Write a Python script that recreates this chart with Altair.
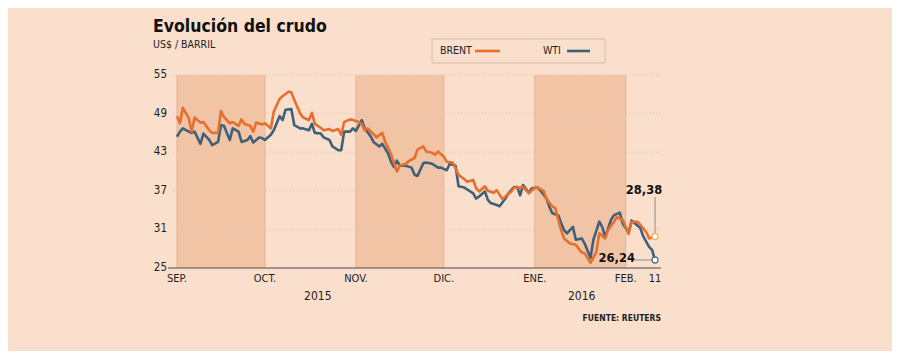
import altair as alt
import pandas as pd

# ---------------- data ----------------
brent_dates = [
    "2015-09-01", "2015-09-02", "2015-09-03", "2015-09-05", "2015-09-06", "2015-09-07",
    "2015-09-09", "2015-09-10", "2015-09-12", "2015-09-13", "2015-09-15", "2015-09-16",
    "2015-09-17", "2015-09-19", "2015-09-20", "2015-09-22", "2015-09-23", "2015-09-24",
    "2015-09-26", "2015-09-27", "2015-09-28", "2015-09-30", "2015-10-01", "2015-10-03",
    "2015-10-04", "2015-10-06", "2015-10-07", "2015-10-09", "2015-10-10", "2015-10-11",
    "2015-10-13", "2015-10-14", "2015-10-16", "2015-10-17", "2015-10-18", "2015-10-20",
    "2015-10-21", "2015-10-23", "2015-10-24", "2015-10-26", "2015-10-27", "2015-10-28",
    "2015-10-30", "2015-10-31", "2015-11-02", "2015-11-03", "2015-11-04", "2015-11-05",
    "2015-11-07", "2015-11-08", "2015-11-10", "2015-11-11", "2015-11-13", "2015-11-14",
    "2015-11-15", "2015-11-16", "2015-11-18", "2015-11-19", "2015-11-21", "2015-11-22",
    "2015-11-24", "2015-11-25", "2015-11-27", "2015-11-28", "2015-11-29", "2015-12-01",
    "2015-12-02", "2015-12-04", "2015-12-05", "2015-12-06", "2015-12-08", "2015-12-09",
    "2015-12-11", "2015-12-12", "2015-12-13", "2015-12-15", "2015-12-16", "2015-12-18",
    "2015-12-19", "2015-12-21", "2015-12-22", "2015-12-24", "2015-12-25", "2015-12-27",
    "2015-12-28", "2015-12-30", "2016-01-01", "2016-01-02", "2016-01-04", "2016-01-05",
    "2016-01-07", "2016-01-08", "2016-01-09", "2016-01-10", "2016-01-11", "2016-01-13",
    "2016-01-15", "2016-01-17", "2016-01-18", "2016-01-20", "2016-01-22", "2016-01-23",
    "2016-01-25", "2016-01-26", "2016-01-28", "2016-01-29", "2016-01-31", "2016-02-02",
    "2016-02-03", "2016-02-05", "2016-02-06", "2016-02-08", "2016-02-09", "2016-02-11",
]
brent_values = [
    48.6, 47.5, 49.9, 48.3, 46.2, 48.4,
    47.6, 47.7, 46.4, 46.0, 46.0, 49.4,
    48.5, 47.5, 47.7, 47.1, 48.1, 47.4,
    47.1, 46.2, 47.6, 47.3, 47.5, 46.7,
    49.3, 51.3, 51.7, 52.4, 52.3, 51.1,
    49.0, 48.4, 48.0, 49.1, 47.4, 46.8,
    46.4, 46.6, 46.3, 46.6, 45.7, 47.7,
    48.1, 48.0, 47.7, 47.4, 46.4, 46.7,
    45.8, 45.3, 46.0, 44.6, 42.7, 41.3,
    40.0, 40.9, 41.2, 41.6, 42.1, 43.4,
    43.9, 43.1, 42.9, 42.6, 43.1, 42.3,
    41.5, 41.4, 40.5, 39.5, 38.8, 38.4,
    38.7, 37.4, 36.9, 37.7, 37.0, 36.7,
    37.1, 35.7, 36.1, 36.9, 37.5, 37.5,
    37.6, 36.6, 37.5, 37.5, 37.0, 35.7,
    34.6, 34.3, 32.5, 30.9, 29.6, 28.8,
    28.6, 27.4, 27.3, 25.8, 27.5, 30.4,
    29.6, 30.9, 32.2, 32.9, 32.5, 30.3,
    32.2, 32.2, 31.7, 30.6, 29.6, 29.9,
]

wti_dates = [
    "2015-09-01", "2015-09-02", "2015-09-03", "2015-09-05", "2015-09-06", "2015-09-07",
    "2015-09-09", "2015-09-10", "2015-09-12", "2015-09-13", "2015-09-15", "2015-09-16",
    "2015-09-17", "2015-09-19", "2015-09-20", "2015-09-22", "2015-09-23", "2015-09-25",
    "2015-09-26", "2015-09-27", "2015-09-29", "2015-09-30", "2015-10-01", "2015-10-03",
    "2015-10-04", "2015-10-06", "2015-10-07", "2015-10-08", "2015-10-10", "2015-10-11",
    "2015-10-13", "2015-10-14", "2015-10-16", "2015-10-17", "2015-10-18", "2015-10-20",
    "2015-10-21", "2015-10-23", "2015-10-24", "2015-10-26", "2015-10-27", "2015-10-28",
    "2015-10-30", "2015-10-31", "2015-11-01", "2015-11-03", "2015-11-04", "2015-11-06",
    "2015-11-07", "2015-11-09", "2015-11-10", "2015-11-12", "2015-11-13", "2015-11-14",
    "2015-11-15", "2015-11-16", "2015-11-18", "2015-11-20", "2015-11-21", "2015-11-22",
    "2015-11-24", "2015-11-25", "2015-11-27", "2015-11-29", "2015-11-30", "2015-12-02",
    "2015-12-03", "2015-12-05", "2015-12-06", "2015-12-08", "2015-12-09", "2015-12-11",
    "2015-12-12", "2015-12-13", "2015-12-15", "2015-12-16", "2015-12-17", "2015-12-19",
    "2015-12-20", "2015-12-22", "2015-12-23", "2015-12-25", "2015-12-26", "2015-12-27",
    "2015-12-28", "2015-12-30", "2015-12-31", "2016-01-02", "2016-01-03", "2016-01-05",
    "2016-01-06", "2016-01-07", "2016-01-09", "2016-01-10", "2016-01-11", "2016-01-12",
    "2016-01-14", "2016-01-15", "2016-01-17", "2016-01-18", "2016-01-20", "2016-01-21",
    "2016-01-23", "2016-01-24", "2016-01-25", "2016-01-27", "2016-01-28", "2016-01-30",
    "2016-01-31", "2016-02-02", "2016-02-03", "2016-02-04", "2016-02-06", "2016-02-07",
    "2016-02-09", "2016-02-10", "2016-02-11",
]
wti_values = [
    45.4, 46.2, 46.7, 46.2, 46.0, 46.2,
    44.3, 45.9, 44.9, 44.1, 44.6, 47.2,
    47.1, 44.9, 46.7, 46.2, 44.6, 44.9,
    45.5, 44.5, 45.3, 45.2, 44.9, 45.7,
    46.4, 48.6, 48.0, 49.6, 49.7, 47.2,
    46.7, 46.7, 46.4, 47.4, 46.0, 45.9,
    45.3, 44.9, 43.9, 43.3, 43.3, 46.2,
    46.2, 46.7, 46.3, 48.0, 46.7, 45.5,
    44.6, 43.9, 44.3, 42.8, 41.5, 40.7,
    41.7, 40.9, 40.9, 40.6, 39.5, 39.3,
    41.3, 41.4, 41.2, 40.6, 40.6, 40.2,
    41.2, 40.9, 37.7, 37.5, 37.2, 36.6,
    35.8, 36.1, 36.9, 35.6, 35.1, 34.8,
    34.6, 35.8, 36.6, 37.6, 37.6, 36.3,
    37.9, 36.7, 37.4, 37.5, 37.0, 35.8,
    34.5, 33.5, 33.2, 32.0, 30.9, 30.4,
    31.4, 29.4, 29.6, 28.8, 26.6, 29.4,
    32.2, 31.4, 29.8, 32.5, 33.2, 33.6,
    31.9, 30.5, 32.4, 32.0, 31.2, 29.9,
    28.3, 27.8, 26.24,
]

band_starts = ["2015-09-01", "2015-11-01", "2016-01-01"]
band_ends = ["2015-10-01", "2015-12-01", "2016-02-01"]
edge_dates = ["2015-09-01", "2015-10-01", "2015-11-01", "2015-12-01", "2016-01-01", "2016-02-01"]
y_ticks = [25, 31, 37, 43, 49, 55]
grid_values = [31, 37, 43, 49, 55]
month_dates = ["2015-09-01", "2015-10-01", "2015-11-01", "2015-12-01", "2016-01-01", "2016-02-01", "2016-02-11"]
month_labels = ["SEP.", "OCT.", "NOV.", "DIC.", "ENE.", "FEB.", "11"]
year_dates = ["2015-10-19", "2016-01-17"]
year_labels = ["2015", "2016"]
brent_last_label = "28,38"
wti_last_label = "26,24"

# ---------------- styles ----------------
BG = "#F9DFCC"
BAND = "#F2C4A6"
EDGE = "#E6B594"
GRID = "#DCC5B4"
ORANGE = "#E56F2C"
BLUE = "#3F6079"
TXT = "#1E1E1E"
FONT = "DejaVu Sans Condensed"

W, H = 478, 193

brent = pd.DataFrame({"date": pd.to_datetime(brent_dates), "value": brent_values})
wti = pd.DataFrame({"date": pd.to_datetime(wti_dates), "value": wti_values})
bands = pd.DataFrame({"start": pd.to_datetime(band_starts), "end": pd.to_datetime(band_ends)})
edges = pd.DataFrame({"date": pd.to_datetime(edge_dates)})
grid = pd.DataFrame({"v": grid_values})
yt = pd.DataFrame({"v": y_ticks, "t": [str(v) for v in y_ticks]})
months = pd.DataFrame({"date": pd.to_datetime(month_dates), "t": month_labels})
years = pd.DataFrame({"date": pd.to_datetime(year_dates), "t": year_labels})
brent_end = brent.tail(1).assign(t=brent_last_label)
wti_end = wti.tail(1).assign(t=wti_last_label)
one = pd.DataFrame({"k": [0]})

xs = alt.Scale(domain=[alt.DateTime(year=2015, month=9, date=1),
                       alt.DateTime(year=2016, month=2, date=11)])
ys = alt.Scale(domain=[25, 55])


def X(f="date"):
    return alt.X(f"{f}:T", scale=xs, axis=None)


def Y(f="value"):
    return alt.Y(f"{f}:Q", scale=ys, axis=None)


band_layer = alt.Chart(bands).mark_rect(color=BAND).encode(
    x=X("start"), x2="end:T", y=alt.value(0), y2=alt.value(H))

edge_layer = alt.Chart(edges).mark_rule(color=EDGE, strokeWidth=1).encode(
    x=X(), y=alt.value(0), y2=alt.value(H))

grid_layer = alt.Chart(grid).mark_rule(color=GRID, strokeWidth=1, strokeDash=[1, 2]).encode(
    y=Y("v"), x=alt.value(-4), x2=alt.value(W + 6))

brent_line = alt.Chart(brent).mark_line(color=ORANGE, strokeWidth=2.6, strokeJoin="round").encode(
    x=X(), y=Y())
wti_line = alt.Chart(wti).mark_line(color=BLUE, strokeWidth=2.6, strokeJoin="round").encode(
    x=X(), y=Y())

base_rule = alt.Chart(one).mark_rule(color="#4A4A4A", strokeWidth=1).encode(
    y=alt.value(H), x=alt.value(-9), x2=alt.value(W + 6))

ylab = alt.Chart(yt).mark_text(align="right", baseline="middle", font=FONT, fontSize=11.5,
                               color=TXT).encode(y=Y("v"), x=alt.value(-10), text="t:N")

mlab = alt.Chart(months).mark_text(align="center", baseline="middle", font=FONT, fontSize=11,
                                   color=TXT).encode(x=X(), y=alt.value(H + 11), text="t:N")

yrlab = alt.Chart(years).mark_text(align="center", baseline="middle", font=FONT, fontSize=12,
                                   color=TXT).encode(x=X(), y=alt.value(H + 28), text="t:N")

# end markers, leader lines and labels
brent_leader = alt.Chart(brent_end).mark_rule(color="#8C8C8C", strokeWidth=1).encode(
    x=X(), y=Y(), y2=alt.value(122))
wti_leader = alt.Chart(wti_end).mark_rule(color="#8C8C8C", strokeWidth=1).encode(
    y=Y(), x=X(), x2=alt.value(458))
brent_dot = alt.Chart(brent_end).mark_point(shape="circle", filled=True, fill="white",
                                            stroke="#F2B25C", strokeWidth=1.3, size=36,
                                            opacity=1).encode(x=X(), y=Y())
wti_dot = alt.Chart(wti_end).mark_point(shape="circle", filled=True, fill="white",
                                        stroke="#4F6F89", strokeWidth=1.3, size=36,
                                        opacity=1).encode(x=X(), y=Y())
brent_txt = alt.Chart(brent_end).mark_text(align="center", baseline="middle", dx=-11, dy=-45,
                                           font="DejaVu Sans", fontWeight="bold", fontSize=11.5,
                                           color="#111").encode(x=X(), y=Y(), text="t:N")
wti_txt = alt.Chart(wti_end).mark_text(align="right", baseline="middle", dx=-20, dy=-1,
                                       font="DejaVu Sans", fontWeight="bold", fontSize=11.5,
                                       color="#111").encode(x=X(), y=Y(), text="t:N")

# title, subtitle, legend, source
title = alt.Chart(one).mark_text(align="left", baseline="alphabetic", font=FONT,
                                 fontWeight="bold", fontSize=17.5, color="#111",
                                 text="Evolución del crudo").encode(x=alt.value(-24), y=alt.value(-43))
subtitle = alt.Chart(one).mark_text(align="left", baseline="alphabetic", font=FONT, fontSize=10.5,
                                    color=TXT, text="US$ / BARRIL").encode(x=alt.value(-24), y=alt.value(-27))
legend_box = alt.Chart(one).mark_rect(fill=BG, stroke="#D6BDAB", strokeWidth=1).encode(
    x=alt.value(255), x2=alt.value(428), y=alt.value(-36), y2=alt.value(-12))
leg_b_txt = alt.Chart(one).mark_text(align="left", baseline="middle", font=FONT, fontSize=10.5,
                                     color=TXT, text="BRENT").encode(x=alt.value(263), y=alt.value(-24))
leg_b_line = alt.Chart(one).mark_rule(color=ORANGE, strokeWidth=2.6).encode(
    x=alt.value(298), x2=alt.value(323), y=alt.value(-24))
leg_w_txt = alt.Chart(one).mark_text(align="left", baseline="middle", font=FONT, fontSize=10.5,
                                     color=TXT, text="WTI").encode(x=alt.value(366), y=alt.value(-24))
leg_w_line = alt.Chart(one).mark_rule(color=BLUE, strokeWidth=2.6).encode(
    x=alt.value(390), x2=alt.value(413), y=alt.value(-24))
source = alt.Chart(one).mark_text(align="right", baseline="alphabetic", font=FONT, fontWeight="bold",
                                  fontSize=8.5, color=TXT, text="FUENTE: REUTERS").encode(
    x=alt.value(484), y=alt.value(246))

chart = alt.layer(
    band_layer, edge_layer, grid_layer, base_rule, wti_line, brent_line,
    brent_leader, wti_leader, brent_dot, wti_dot, brent_txt, wti_txt,
    ylab, mlab, yrlab, title, subtitle, legend_box, leg_b_txt, leg_b_line,
    leg_w_txt, leg_w_line, source,
).properties(
    width=W, height=H,
    padding={"left": 169, "top": 67, "right": 237, "bottom": 83},
    autosize=alt.AutoSizeParams(type="none"),
    background=BG,
).configure_view(stroke=None)

chart.save("out.html", embed_options={"renderer": "svg", "actions": False})
